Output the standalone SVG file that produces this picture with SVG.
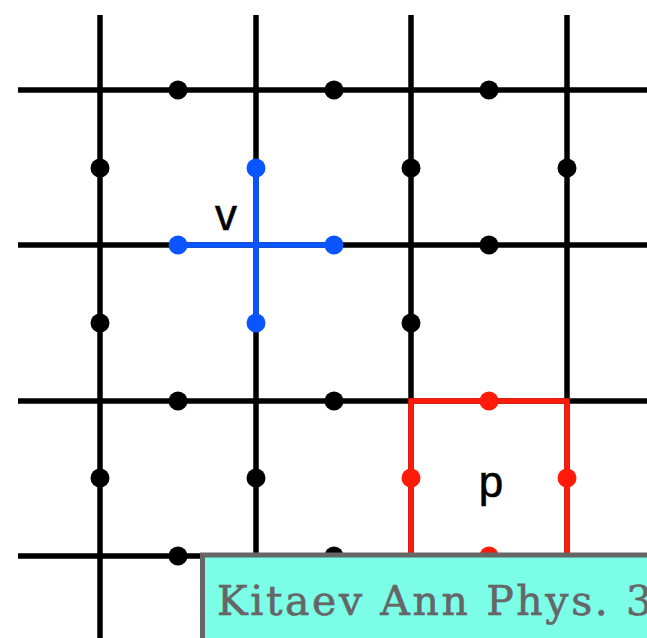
<svg xmlns="http://www.w3.org/2000/svg" width="647" height="638" viewBox="0 0 647 638">
<style>
.g{stroke:#000;stroke-width:5.5;fill:none}
.b{stroke:#0a55ff;stroke-width:5.5;fill:none}
.r{stroke:#ff1a0a;stroke-width:5.5;fill:none}
.lbl{font-family:"Liberation Sans",Arial,sans-serif;font-size:44px;fill:#000;stroke:#000;stroke-width:0.6}
</style>
<defs>
<circle id="d" r="9.5"/>
</defs>
<rect width="647" height="638" fill="#fff"/>
<g id="connectors">
<g class="g">
<line x1="18" y1="90" x2="647" y2="90"/>
<line x1="18" y1="245" x2="647" y2="245"/>
<line x1="18" y1="401" x2="647" y2="401"/>
<line x1="18" y1="556" x2="647" y2="556"/>
<line x1="100" y1="15" x2="100" y2="638"/>
<line x1="256" y1="15" x2="256" y2="638"/>
<line x1="411" y1="15" x2="411" y2="638"/>
<line x1="567" y1="15" x2="567" y2="638"/>
</g>
</g>
<g id="sites" fill="#000">
<use href="#d" x="178" y="90"/><use href="#d" x="334" y="90"/><use href="#d" x="489" y="90"/>
<use href="#d" x="489" y="245"/>
<use href="#d" x="178" y="401"/><use href="#d" x="334" y="401"/>
<use href="#d" x="178" y="556"/><use href="#d" x="334" y="556"/>
<use href="#d" x="100" y="168"/><use href="#d" x="411" y="168"/><use href="#d" x="567" y="168"/>
<use href="#d" x="100" y="323"/><use href="#d" x="411" y="323"/>
<use href="#d" x="100" y="478"/><use href="#d" x="256" y="478"/>
</g>
<g id="vertex">
<g class="b">
<line x1="178" y1="245" x2="334" y2="245"/>
<line x1="256" y1="168" x2="256" y2="323"/>
</g>
<g fill="#0a55ff">
<use href="#d" x="178" y="245"/><use href="#d" x="334" y="245"/>
<use href="#d" x="256" y="168"/><use href="#d" x="256" y="323"/>
</g>
<text class="lbl" x="226" y="230" text-anchor="middle">v</text>
</g>
<g id="plaquette">
<rect class="r" x="411" y="401" width="156" height="155"/>
<g fill="#ff1a0a">
<use href="#d" x="489" y="401"/><use href="#d" x="411" y="478"/>
<use href="#d" x="567" y="478"/><use href="#d" x="489" y="556"/>
</g>
<text class="lbl" x="491" y="497" text-anchor="middle">p</text>
</g>
<g id="citation">
<rect x="202.5" y="555" width="470" height="100" fill="#7bfde8" stroke="#666" stroke-width="5"/>
<text x="217" y="615" font-family="'DejaVu Serif','Liberation Serif',serif" font-size="41" letter-spacing="2.6" fill="#666" stroke="#666" stroke-width="0.6">Kitaev Ann Phys. 3</text>
</g>
</svg>
